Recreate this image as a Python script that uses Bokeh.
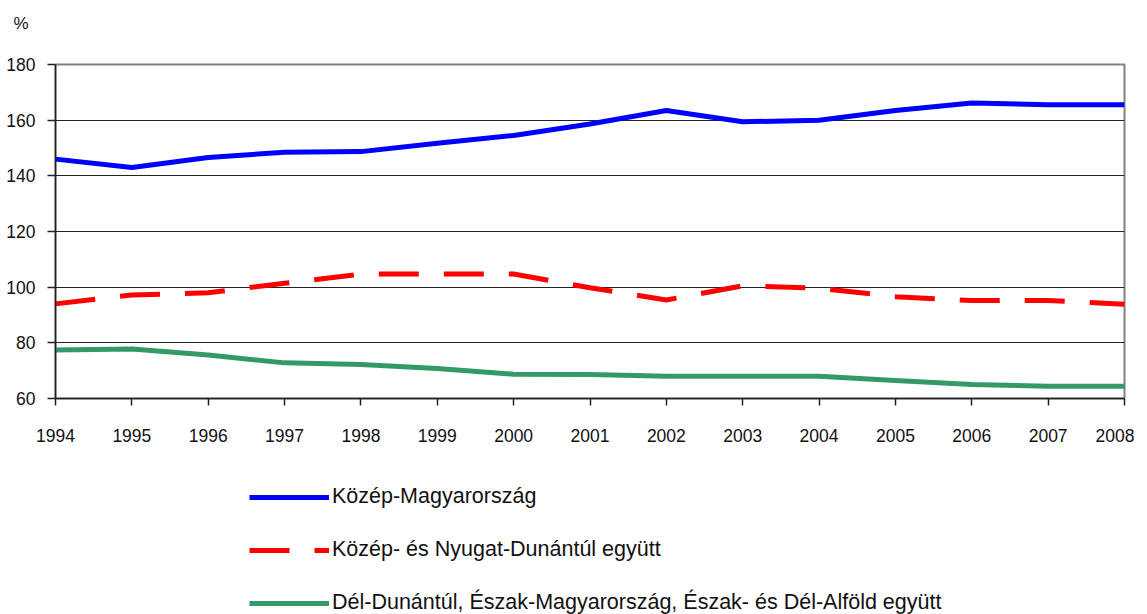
from bokeh.plotting import figure
from bokeh.layouts import column
from bokeh.models import Range1d, FixedTicker, Legend, LegendItem
from bokeh.embed import file_html
from bokeh.resources import INLINE

years = list(range(1994, 2009))
kozep_magyarorszag = [146.0, 143.0, 146.6, 148.5, 148.7, 151.7, 154.5, 158.6, 163.5, 159.4, 160.0, 163.5, 166.2, 165.5, 165.5]
kozep_nyugat_dunantul = [94.0, 97.2, 98.0, 101.4, 104.7, 104.7, 104.7, 99.8, 95.4, 100.5, 99.6, 96.6, 95.2, 95.2, 93.9]
del_eszak_alfold = [77.4, 77.8, 75.6, 72.8, 72.2, 70.8, 68.7, 68.6, 68.0, 68.0, 68.0, 66.5, 65.0, 64.4, 64.4]
y_ticks = [60, 80, 100, 120, 140, 160, 180]
y_unit = "%"
series_names = [
    "Közép-Magyarország",
    "Közép- és Nyugat-Dunántúl együtt",
    "Dél-Dunántúl, Észak-Magyarország, Észak- és Dél-Alföld együtt",
]
colors = ["#0000FF", "#FF0000", "#339966"]
dashes = ["solid", "40 25", "solid"]

FONT = "Liberation Sans"
W = 1134

# small strip above the chart holding the unit label (as its title)
top = figure(
    width=W, height=50, x_range=Range1d(0, 1), y_range=Range1d(0, 1),
    output_backend="svg", toolbar_location=None, min_border=0, title=y_unit,
)
top.axis.visible = False
top.grid.visible = False
top.outline_line_color = None
top.title.text_font = FONT
top.title.text_font_size = "17px"
top.title.text_font_style = "normal"
top.title.text_color = "#111111"
top.title.align = "left"
top.title.vertical_align = "middle"
top.title.offset = -42
top.title.standoff = 24

p = figure(
    frame_width=1069, frame_height=334,
    x_range=Range1d(1994, 2008), y_range=Range1d(60, 180),
    output_backend="svg", toolbar_location=None,
    min_border_left=55, min_border_right=10, min_border_top=14, min_border_bottom=80,
)
p.outline_line_color = "#808080"
p.outline_line_width = 2
p.background_fill_color = "white"
p.border_fill_color = "white"

p.xgrid.visible = False
p.ygrid.grid_line_color = "#222222"
p.ygrid.grid_line_width = 1
p.ygrid.ticker = FixedTicker(ticks=y_ticks)

p.yaxis.ticker = FixedTicker(ticks=y_ticks)
p.xaxis.ticker = FixedTicker(ticks=years)
for ax in (p.xaxis[0], p.yaxis[0]):
    ax.axis_line_color = "#222222"
    ax.axis_line_width = 1.5
    ax.major_tick_line_color = "#222222"
    ax.major_tick_line_width = 1.5
    ax.minor_tick_line_color = None
    ax.major_tick_in = 0
    ax.major_label_text_font = FONT
    ax.major_label_text_font_size = "17.5px"
    ax.major_label_text_color = "#111111"
p.yaxis.major_tick_out = 8
p.yaxis.major_label_standoff = 12
p.xaxis.major_tick_out = 7
p.xaxis.major_label_standoff = 23

series = [kozep_magyarorszag, kozep_nyugat_dunantul, del_eszak_alfold]
for vals, c, d in zip(series, colors, dashes):
    p.line(years, vals, line_color=c, line_width=5, line_dash=d)

# legend panel below the chart: same series, drawn off-range so only the keys show
q = figure(
    width=W, height=137,
    x_range=Range1d(0, 1), y_range=Range1d(0, 1),
    output_backend="svg", toolbar_location=None,
    min_border=0,
)
q.axis.visible = False
q.grid.visible = False
q.outline_line_color = None
items = []
for name, vals, c, d in zip(series_names, series, colors, dashes):
    r = q.line(years, vals, line_color=c, line_width=5, line_dash=d)
    items.append(LegendItem(label=name, renderers=[r]))

legend = Legend(
    items=items,
    location=(194, 0),
    orientation="vertical",
    glyph_width=80, glyph_height=20, label_height=20,
    label_standoff=3, spacing=28, padding=0, margin=0,
    border_line_color=None, background_fill_alpha=0,
    label_text_font=FONT, label_text_font_size="21.5px", label_text_color="#111111",
)
q.add_layout(legend, "center")

layout = column(top, p, q, spacing=0)
open("out.html", "w").write(file_html(layout, INLINE))
